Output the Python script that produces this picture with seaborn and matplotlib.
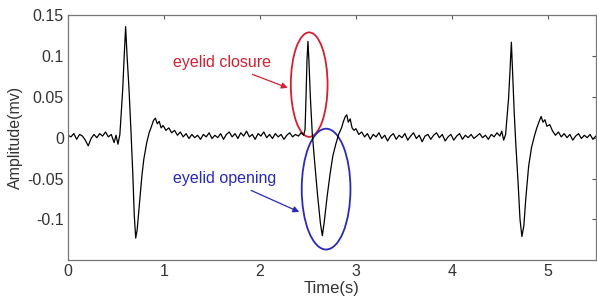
import matplotlib
matplotlib.use("Agg")
import matplotlib.pyplot as plt
import seaborn as sns
import pandas as pd
from matplotlib.patches import Ellipse

# ---- data ----
time_s = [
    0.00, 0.03, 0.06, 0.09, 0.12, 0.15, 0.18, 0.21, 0.24, 0.27, 0.30, 0.33, 0.36, 0.39, 0.42, 0.45, 0.48, 0.50, 0.52, 0.54,
    0.55, 0.57, 0.585, 0.60, 0.615, 0.635, 0.655, 0.675, 0.69, 0.705, 0.72, 0.745, 0.77, 0.79, 0.82, 0.845, 0.87, 0.89, 0.91,
    0.93, 0.95, 0.97, 0.99, 1.02, 1.05, 1.08, 1.11, 1.14, 1.17, 1.20, 1.23, 1.26, 1.29, 1.32, 1.35,
    1.38, 1.41, 1.44, 1.47, 1.50, 1.53, 1.56, 1.59, 1.62, 1.65, 1.68, 1.71, 1.74, 1.77, 1.80, 1.83, 1.86, 1.89, 1.92, 1.95,
    1.98, 2.01, 2.04, 2.07, 2.10, 2.13, 2.16, 2.19, 2.22, 2.25, 2.28, 2.31, 2.34, 2.37, 2.40, 2.43, 2.455,
    2.47, 2.48, 2.49, 2.50, 2.51, 2.525, 2.545, 2.57, 2.60, 2.63, 2.65, 2.67, 2.70, 2.73, 2.76, 2.79, 2.82, 2.85, 2.87, 2.89,
    2.905, 2.92, 2.94, 2.96, 2.98, 3.00, 3.03, 3.06, 3.09,
    3.12, 3.15, 3.18, 3.21, 3.24, 3.27, 3.30, 3.33, 3.36, 3.39, 3.42, 3.45, 3.48, 3.51, 3.54, 3.57, 3.60, 3.63, 3.66, 3.69,
    3.72, 3.75, 3.78, 3.81, 3.84, 3.87, 3.90, 3.93, 3.96, 3.99, 4.02, 4.05, 4.08, 4.11, 4.14, 4.17, 4.20, 4.23, 4.26, 4.29,
    4.32, 4.35, 4.38, 4.41, 4.44, 4.47, 4.50, 4.52, 4.54,
    4.56, 4.575, 4.59, 4.605, 4.62, 4.635, 4.65, 4.665, 4.69, 4.71, 4.73, 4.75, 4.77, 4.80, 4.83, 4.86, 4.885, 4.91, 4.93,
    4.95, 4.97, 4.99, 5.02, 5.05, 5.08, 5.11, 5.14, 5.17, 5.20, 5.23, 5.26, 5.29, 5.32, 5.35, 5.38, 5.41, 5.44, 5.47, 5.50,
]
amplitude_mv = [
    0.003, 0.001, 0.005, -0.002, 0.004, 0.002, -0.003, -0.010, -0.001, 0.004, 0.000, 0.005, 0.002, 0.007, 0.001, 0.004, -0.006, 0.003, -0.008, 0.004,
    0.022, 0.060, 0.100, 0.136, 0.100, 0.060, 0.010, -0.045, -0.095, -0.123, -0.113, -0.080, -0.046, -0.026, -0.006, 0.006, 0.014, 0.021, 0.024,
    0.017, 0.020, 0.012, 0.015, 0.009, 0.012, 0.006, 0.009, 0.003, 0.007, 0.001, 0.005, -0.001, 0.004, 0.000, 0.003,
    -0.002, 0.004, 0.001, 0.006, -0.001, 0.003, 0.000, 0.005, -0.002, 0.004, 0.007, 0.001, 0.005, -0.001, 0.006, 0.002, 0.008, 0.001, 0.004, -0.002,
    0.005, 0.002, 0.007, 0.000, 0.004, -0.001, 0.005, 0.001, 0.004, -0.002, 0.003, 0.006, 0.001, 0.004, 0.002, 0.006, 0.003,
    0.010, 0.050, 0.095, 0.118, 0.095, 0.050, 0.005, -0.030, -0.070, -0.105, -0.120, -0.103, -0.072, -0.045, -0.022, -0.008, 0.004, 0.012, 0.020, 0.026,
    0.028, 0.019, 0.023, 0.012, 0.009, 0.011, 0.004, 0.007, 0.001,
    0.005, -0.002, 0.004, 0.001, 0.006, -0.001, 0.003, -0.004, 0.002, 0.005, -0.002, 0.003, 0.000, 0.005, -0.003, 0.002, 0.006, -0.001, 0.003, -0.005,
    0.002, 0.004, -0.002, 0.003, 0.006, 0.000, 0.004, -0.004, 0.001, 0.004, -0.003, 0.002, 0.005, -0.002, 0.003, 0.000, 0.004, -0.001, 0.002, 0.005,
    0.000, 0.003, -0.002, 0.004, 0.001, 0.006, 0.002, 0.008, -0.003,
    0.004, 0.025, 0.047, 0.080, 0.117, 0.075, 0.030, -0.005, -0.055, -0.100, -0.121, -0.108, -0.075, -0.035, -0.012, 0.002, 0.012, 0.020, 0.026,
    0.019, 0.022, 0.014, 0.016, 0.008, 0.003, 0.007, 0.001, 0.005, 0.000, 0.004, -0.003, 0.002, 0.005, -0.001, 0.003, 0.000, 0.004, -0.002, 0.002,
]
x_ticks = [0, 1, 2, 3, 4, 5]
y_ticks = [-0.1, -0.05, 0, 0.05, 0.1, 0.15]
y_tick_labels = ["-0.1", "-0.05", "0", "0.05", "0.1", "0.15"]
closure_label = "eyelid closure"
opening_label = "eyelid opening"

sns.set_style("white")
plt.rcParams["font.family"] = ["Liberation Sans", "DejaVu Sans"]

df = pd.DataFrame({"t": time_s, "a": amplitude_mv})

fig = plt.figure(figsize=(5.97, 2.99), dpi=100)
ax = fig.add_axes([0.114, 0.130, 0.884, 0.819])

sns.lineplot(data=df, x="t", y="a", ax=ax, color="black", linewidth=0.9,
             estimator=None, sort=False)

ax.set_xlim(0, 5.5)
ax.set_ylim(-0.15, 0.15)
ax.set_xticks(x_ticks)
ax.set_xticklabels([str(v) for v in x_ticks])
ax.set_yticks(y_ticks)
ax.set_yticklabels(y_tick_labels)
ax.tick_params(direction="in", top=True, right=True, length=3, width=0.8,
               colors="#555555", labelcolor="#333333", labelsize=11.5, pad=3)
for s in ax.spines.values():
    s.set_color("#777777")
    s.set_linewidth(0.9)

ax.set_xlabel("Time(s)", fontsize=12, color="#333333", labelpad=1)
ax.set_ylabel("Amplitude(mv)", fontsize=11.5, color="#333333", labelpad=3)

red = "#d22030"
blue = "#2a2ab8"
ax.add_patch(Ellipse((2.513, 0.065), 0.383, 0.128, fill=False, edgecolor=red, linewidth=1.3))
ax.add_patch(Ellipse((2.689, -0.063), 0.508, 0.148, fill=False, edgecolor=blue, linewidth=1.3))

ax.annotate(closure_label, xy=(2.29, 0.061), xytext=(1.60, 0.092),
            ha="center", va="center", color=red, fontsize=11.5,
            arrowprops=dict(arrowstyle="-|>", color=red, lw=0.9,
                            mutation_scale=9, shrinkA=2, shrinkB=0))
ax.annotate(opening_label, xy=(2.41, -0.091), xytext=(1.63, -0.050),
            ha="center", va="center", color=blue, fontsize=11.5,
            arrowprops=dict(arrowstyle="-|>", color=blue, lw=0.9,
                            mutation_scale=9, shrinkA=2, shrinkB=0))

fig.savefig("out.png", dpi=100)
